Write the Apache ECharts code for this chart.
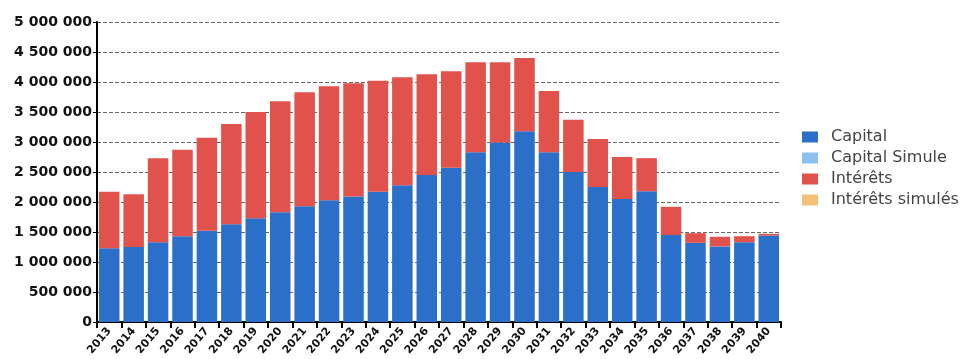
<!DOCTYPE html>
<html>
<head>
<meta charset="utf-8">
<script src="https://cdn.jsdelivr.net/npm/echarts@6/dist/echarts.min.js"></script>
<style>
  html, body { margin: 0; padding: 0; background: #fff; }
  #chart { width: 974px; height: 359px; }
</style>
</head>
<body>
<div id="chart"></div>
<script>
const years = ['2013', '2014', '2015', '2016', '2017', '2018', '2019', '2020', '2021', '2022',
  '2023', '2024', '2025', '2026', '2027', '2028', '2029', '2030', '2031', '2032',
  '2033', '2034', '2035', '2036', '2037', '2038', '2039', '2040'];

const capital = [1230000, 1250000, 1330000, 1430000, 1520000, 1630000, 1730000, 1830000, 1930000, 2030000,
  2090000, 2170000, 2280000, 2450000, 2570000, 2830000, 2990000, 3180000, 2830000, 2500000,
  2250000, 2050000, 2180000, 1450000, 1320000, 1260000, 1330000, 1440000];

const interets = [940000, 880000, 1400000, 1440000, 1550000, 1670000, 1770000, 1850000, 1900000, 1900000,
  1890000, 1850000, 1800000, 1680000, 1610000, 1500000, 1340000, 1220000, 1020000, 870000,
  800000, 700000, 550000, 470000, 160000, 160000, 100000, 30000];

const capitalSimule = [];
const interetsSimules = [];

const yTicks = [0, 500000, 1000000, 1500000, 2000000, 2500000, 3000000, 3500000, 4000000, 4500000, 5000000];

const chart = echarts.init(document.getElementById('chart'));

// 1 500 000 style
function fmt(v) {
  return String(v).replace(/\B(?=(\d{3})+(?!\d))/g, ' ');
}

const option = {
  animation: false,
  grid: { left: 97, right: 193, top: 22, bottom: 37 },
  legend: {
    orient: 'vertical',
    left: 797,
    top: 124,
    itemWidth: 16,
    itemHeight: 11,
    itemGap: 5,
    icon: 'rect',
    textStyle: {
      fontFamily: 'DejaVu Sans',
      fontSize: 16,
      color: '#444',
      padding: [0, 0, 0, 8]
    },
    data: ['Capital', 'Capital Simule', 'Intérêts', 'Intérêts simulés']
  },
  xAxis: {
    type: 'category',
    data: years,
    axisLine: { lineStyle: { color: '#000', width: 2 } },
    axisTick: { show: true, length: 6, lineStyle: { color: '#000', width: 2 } },
    axisLabel: {
      rotate: 50,
      fontFamily: 'DejaVu Sans',
      fontWeight: 'bold',
      fontSize: 11,
      color: '#111',
      margin: 7
    }
  },
  yAxis: {
    type: 'value',
    min: yTicks[0],
    max: yTicks[yTicks.length - 1],
    interval: 500000,
    axisLine: { show: true, lineStyle: { color: '#000', width: 2 } },
    axisTick: { show: true, length: 4, lineStyle: { color: '#000' } },
    splitLine: { lineStyle: { color: '#666', type: 'dashed', width: 1 } },
    axisLabel: {
      formatter: fmt,
      fontFamily: 'DejaVu Sans',
      fontWeight: 'bold',
      fontSize: 14,
      color: '#111',
      margin: 5
    }
  },
  series: [
    {
      name: 'Capital',
      type: 'bar',
      stack: 'total',
      barCategoryGap: '16%',
      data: capital,
      itemStyle: { color: '#2b6fc8' }
    },
    {
      name: 'Capital Simule',
      type: 'bar',
      stack: 'total',
      data: capitalSimule,
      itemStyle: { color: '#8cc0f0' }
    },
    {
      name: 'Intérêts',
      type: 'bar',
      stack: 'total',
      data: interets,
      itemStyle: { color: '#e1524d' }
    },
    {
      name: 'Intérêts simulés',
      type: 'bar',
      stack: 'total',
      data: interetsSimules,
      itemStyle: { color: '#f2c07a' }
    }
  ]
};

chart.setOption(option);
</script>
</body>
</html>
